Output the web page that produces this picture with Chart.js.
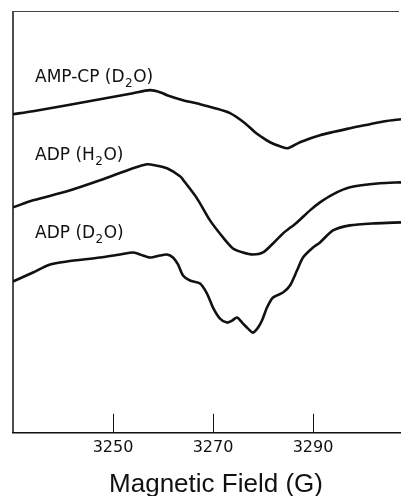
<!DOCTYPE html>
<html>
<head>
<meta charset="utf-8">
<script src="https://cdn.jsdelivr.net/npm/chart.js@4.4.0/dist/chart.umd.min.js"></script>
<style>
  body { margin: 0; background: #fff; }
  canvas { display: block; }
</style>
</head>
<body>
<canvas id="eprChart" width="401" height="496"></canvas>
<script>
// spectra: field in gauss, signal in arbitrary units (offset traces)
const ampcpField = [3230.0, 3234.0, 3240.8, 3247.4, 3254.0, 3257.4, 3259.4, 3260.8, 3264.0, 3267.4, 3270.4, 3273.4, 3276.4, 3278.4, 3279.8, 3281.4, 3283.4, 3285.0, 3287.4, 3291.4, 3297.4, 3301.4, 3304.4, 3307.6];
const ampcpSignal = [318, 321, 327, 333, 339, 342, 340, 337, 332, 328, 324, 319, 309, 300, 295, 290, 286, 284, 290, 297, 304, 308, 311, 313];

const adpH2OField = [3230.0, 3234.0, 3240.8, 3247.4, 3254.0, 3256.8, 3258.4, 3260.8, 3263.4, 3264.4, 3266.8, 3269.4, 3272.0, 3274.0, 3276.0, 3278.0, 3280.0, 3282.0, 3284.0, 3286.8, 3289.4, 3291.4, 3294.0, 3297.4, 3303.4, 3307.6];
const adpH2OSignal = [225, 232, 241, 252, 264, 268, 267, 264, 256, 250, 234, 212, 195, 184, 180, 178, 180, 189, 199, 210, 222, 230, 238, 245, 249, 250];

const adpD2OField = [3230.0, 3234.0, 3237.4, 3240.8, 3247.4, 3251.4, 3254.0, 3255.4, 3257.4, 3259.4, 3260.8, 3262.0, 3263.0, 3264.0, 3265.4, 3267.4, 3268.8, 3270.0, 3271.4, 3272.8, 3273.8, 3274.8, 3276.0, 3277.0, 3278.0, 3279.0, 3279.8, 3280.8, 3282.0, 3284.0, 3285.4, 3286.8, 3288.0, 3290.0, 3291.4, 3294.0, 3297.4, 3302.4, 3307.6];
const adpD2OSignal = [151, 160, 168, 171, 175, 178, 180, 178, 175, 177, 178, 175, 168, 157, 152, 149, 139, 125, 114, 110, 112, 115, 109, 104, 100, 105, 112, 125, 135, 140, 147, 162, 175, 185, 190, 202, 207, 209, 210];

// trace names: text before the subscript, the subscript, text after it
const traceLabels = ['AMP-CP (D₂O)', 'ADP (H₂O)', 'ADP (D₂O)'];
const labelParts = [['AMP-CP (D', '2', 'O)'], ['ADP (H', '2', 'O)'], ['ADP (D', '2', 'O)']];
const tickValues = [3250, 3270, 3290];
const axisTitle = 'Magnetic Field (G)';

function toPoints(xs, ys) {
    return xs.map((x, i) => ({ x: x, y: ys[i] }));
}

function makeTrace(label, xs, ys) {
    return {
        label: label,
        data: toPoints(xs, ys),
        borderColor: '#111',
        borderWidth: 2.6,
        pointRadius: 0,
        tension: 0.25,
        fill: false
    };
}

// frame, inward tick marks, trace names and the axis title
const figureExtras = {
    id: 'figureExtras',
    afterDraw(chart) {
        const ctx = chart.ctx;
        const area = chart.chartArea;
        const xs = chart.scales.x;
        const ys = chart.scales.y;
        ctx.save();

        ctx.strokeStyle = '#111';
        ctx.lineWidth = 1.5;
        ctx.beginPath();
        ctx.moveTo(area.left, area.bottom);
        ctx.lineTo(area.left, area.top);
        ctx.stroke();

        ctx.strokeStyle = '#444';
        ctx.lineWidth = 1;
        ctx.beginPath();
        ctx.moveTo(area.left, area.top + 0.5);
        ctx.lineTo(area.right - 2, area.top + 0.5);
        ctx.stroke();

        ctx.strokeStyle = '#111';
        ctx.lineWidth = 1;
        tickValues.forEach(v => {
            const px = Math.round(xs.getPixelForValue(v)) + 0.5;
            ctx.beginPath();
            ctx.moveTo(px, area.bottom);
            ctx.lineTo(px, area.bottom - 19);
            ctx.stroke();
        });

        ctx.fillStyle = '#111';
        ctx.textBaseline = 'alphabetic';
        ctx.textAlign = 'left';
        const labelY = [350, 272, 194];
        labelParts.forEach((parts, i) => {
            let x = xs.getPixelForValue(3234.4);
            const y = ys.getPixelForValue(labelY[i]);
            ctx.font = '17px "DejaVu Sans"';
            ctx.fillText(parts[0], x, y);
            x += ctx.measureText(parts[0]).width + 0.5;
            ctx.font = '12px "DejaVu Sans"';
            ctx.fillText(parts[1], x, y + 5);
            x += ctx.measureText(parts[1]).width + 0.5;
            ctx.font = '17px "DejaVu Sans"';
            ctx.fillText(parts[2], x, y);
        });

        ctx.font = '26px "Liberation Sans"';
        ctx.textAlign = 'center';
        ctx.fillText(axisTitle, xs.getPixelForValue(3270.6), area.bottom + 59);
        ctx.restore();
    }
};

const ctx = document.getElementById('eprChart').getContext('2d');
const chart = new Chart(ctx, {
    type: 'line',
    data: {
        datasets: [
            makeTrace(traceLabels[0], ampcpField, ampcpSignal),
            makeTrace(traceLabels[1], adpH2OField, adpH2OSignal),
            makeTrace(traceLabels[2], adpD2OField, adpD2OSignal)
        ]
    },
    options: {
        responsive: false,
        animation: false,
        layout: { padding: { left: 13, top: 11, right: 0, bottom: 34 } },
        plugins: {
            legend: { display: false },
            tooltip: { enabled: false }
        },
        scales: {
            x: {
                type: 'linear',
                min: 3230,
                max: 3307.6,
                afterBuildTicks: scale => {
                    scale.ticks = tickValues.map(v => ({ value: v }));
                },
                grid: { display: false, drawTicks: false },
                border: { display: true, color: '#111', width: 1.5 },
                ticks: {
                    color: '#111',
                    padding: 5,
                    maxRotation: 0,
                    font: { family: 'DejaVu Sans', size: 16 },
                    callback: v => String(v)
                }
            },
            y: {
                display: false,
                min: 0,
                max: 421
            }
        }
    },
    plugins: [figureExtras]
});
</script>
</body>
</html>
